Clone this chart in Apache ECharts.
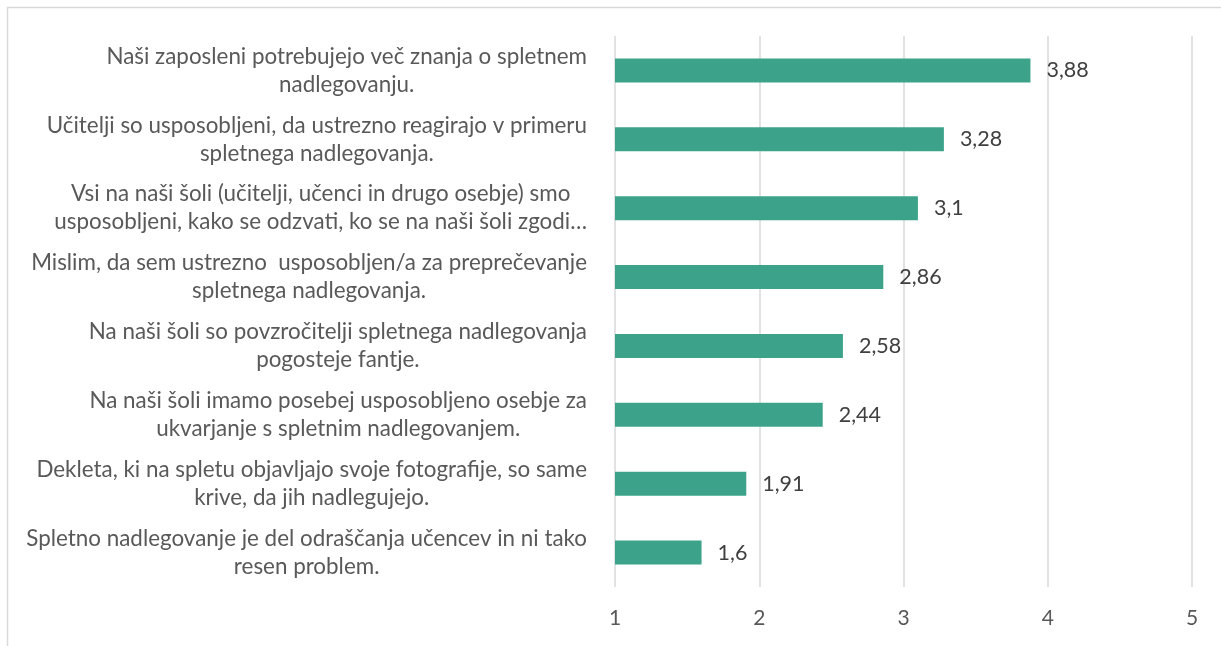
<!DOCTYPE html>
<html>
<head>
<meta charset="utf-8">
<script src="https://cdn.jsdelivr.net/npm/echarts@6/dist/echarts.min.js"></script>
<style>
  html, body { margin: 0; padding: 0; background: #fff; }
  #chart { width: 1221px; height: 646px; }
</style>
</head>
<body>
<div id="chart"></div>
<script>
// trditve (od zgoraj navzdol)
var categories = [
  "Naši zaposleni potrebujejo več znanja o spletnem\nnadlegovanju.",
  "Učitelji so usposobljeni, da ustrezno reagirajo v primeru\nspletnega nadlegovanja.",
  "Vsi na naši šoli (učitelji, učenci in drugo osebje) smo\nusposobljeni, kako se odzvati, ko se na naši šoli zgodi…",
  "Mislim, da sem ustrezno  usposobljen/a za preprečevanje\nspletnega nadlegovanja.",
  "Na naši šoli so povzročitelji spletnega nadlegovanja\npogosteje fantje.",
  "Na naši šoli imamo posebej usposobljeno osebje za\nukvarjanje s spletnim nadlegovanjem.",
  "Dekleta, ki na spletu objavljajo svoje fotografije, so same\nkrive, da jih nadlegujejo.",
  "Spletno nadlegovanje je del odraščanja učencev in ni tako\nresen problem."
];
var values = [3.88, 3.28, 3.1, 2.86, 2.58, 2.44, 1.91, 1.6];
var xMin = 1, xMax = 5, xStep = 1;

var fontName = "Lato, 'Open Sans', sans-serif";

var chartDom = document.getElementById("chart");
var myChart = echarts.init(chartDom);

var option = {
  animation: false,
  textStyle: { fontFamily: fontName },
  grid: {
    left: 615,
    right: 29,
    top: 36,
    bottom: 59,
    containLabel: false
  },
  graphic: [
    {
      type: "rect",
      shape: { x: 7.5, y: 7.5, width: 1240, height: 700 },
      style: { fill: "none", stroke: "#d9d9d9", lineWidth: 1.5 },
      silent: true
    }
  ],
  xAxis: {
    type: "value",
    min: xMin,
    max: xMax,
    interval: xStep,
    axisLine: { show: false },
    axisTick: { show: false },
    axisLabel: {
      color: "#595959",
      fontSize: 21,
      margin: 21,
      fontFamily: fontName
    },
    splitLine: {
      show: true,
      lineStyle: { color: "#d9d9d9", width: 1.5 }
    }
  },
  yAxis: {
    type: "category",
    inverse: true,
    data: categories,
    axisLine: { show: false },
    axisTick: { show: false },
    axisLabel: {
      margin: 28,
      align: "right",
      verticalAlign: "middle",
      formatter: function (val) {
        return val.split("\n").map(function (s) {
          return "{a|" + s + "}";
        }).join("\n");
      },
      rich: {
        a: {
          align: "center",
          color: "#595959",
          fontSize: 22.4,
          lineHeight: 28,
          fontFamily: fontName
        }
      }
    }
  },
  series: [
    {
      type: "bar",
      data: values,
      barCategoryGap: "65%",
      itemStyle: { color: "#3ca38a" },
      label: {
        show: true,
        position: "right",
        distance: 16,
        color: "#404040",
        fontSize: 21.5,
        fontFamily: fontName,
        formatter: function (p) {
          return String(p.value).replace(".", ",");
        }
      }
    }
  ]
};

myChart.setOption(option);
window.addEventListener("resize", function () {
  myChart.resize();
});
</script>
</body>
</html>
